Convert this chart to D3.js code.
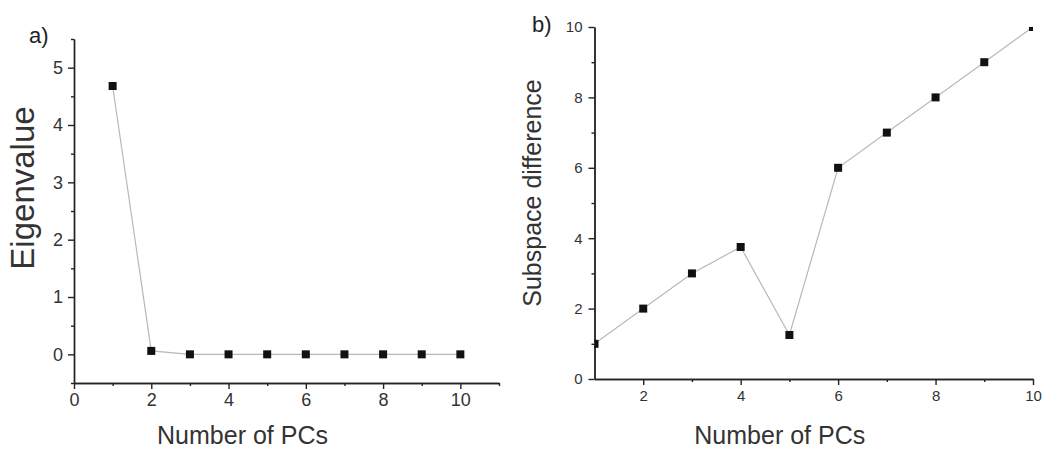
<!DOCTYPE html>
<html>
<head>
<meta charset="utf-8">
<script src="https://cdn.jsdelivr.net/npm/d3@7"></script>
<style>
  body { margin: 0; background: #fff; }
  svg { font-family: "Liberation Sans", Arial, sans-serif; }
  .axis path, .axis line { stroke: #222; stroke-width: 1.4; }
  .axis text { fill: #333; }
</style>
</head>
<body>
<div class="chart"></div>
<script>
// panel a) eigenvalues
let pcsA = [1, 2, 3, 4, 5, 6, 7, 8, 9, 10];
let eigenvalues = [4.68, 0.06, 0, 0, 0, 0, 0, 0, 0, 0];
let xTicksA = [0, 2, 4, 6, 8, 10];
let yTicksA = [0, 1, 2, 3, 4, 5];

// panel b) subspace difference
let pcsB = [1, 2, 3, 4, 5, 6, 7, 8, 9, 10];
let subspaceDiff = [1, 2, 3, 3.75, 1.25, 6, 7, 8, 9, 10];
let xTicksB = [2, 4, 6, 8, 10];
let yTicksB = [0, 2, 4, 6, 8, 10];

let width = 1053, height = 450;

let svg = d3.select('.chart')
  .append('svg')
  .attr('width', width)
  .attr('height', height);

let fmt = d3.format('d');

let drawPanel = function (opt) {
  let x = d3.scaleLinear().domain(opt.xDomain).range([opt.left, opt.right]);
  let y = d3.scaleLinear().domain(opt.yDomain).range([opt.bottom, opt.top]);
  let g = svg.append('g');

  // minor ticks
  g.append('g')
    .attr('class', 'axis')
    .attr('transform', 'translate(0,' + opt.bottom + ')')
    .call(d3.axisBottom(x).tickValues(opt.xMinor).tickSize(3).tickFormat('').tickSizeOuter(0));
  g.append('g')
    .attr('class', 'axis')
    .attr('transform', 'translate(' + opt.left + ',0)')
    .call(d3.axisLeft(y).tickValues(opt.yMinor).tickSize(3).tickFormat('').tickSizeOuter(0));

  // major ticks
  let xa = g.append('g')
    .attr('class', 'axis')
    .attr('transform', 'translate(0,' + opt.bottom + ')')
    .call(d3.axisBottom(x).tickValues(opt.xTicks).tickFormat(fmt).tickSize(6).tickSizeOuter(0).tickPadding(opt.xPad));
  xa.selectAll('text').style('font-size', opt.tickFont + 'px');
  let ya = g.append('g')
    .attr('class', 'axis')
    .attr('transform', 'translate(' + opt.left + ',0)')
    .call(d3.axisLeft(y).tickValues(opt.yTicks).tickFormat(fmt).tickSize(6).tickSizeOuter(0).tickPadding(opt.yPad));
  ya.selectAll('text').style('font-size', opt.tickFont + 'px');

  // clip region for markers
  let clipId = 'clip-' + opt.name;
  svg.append('clipPath').attr('id', clipId)
    .append('rect')
    .attr('x', opt.left).attr('y', opt.top)
    .attr('width', opt.right - opt.left).attr('height', opt.bottom - opt.top);

  let data = opt.xs.map(function (d, i) { return [d, opt.ys[i]]; });
  let line = d3.line()
    .x(function (d) { return x(d[0]); })
    .y(function (d) { return y(d[1]); });

  g.append('path')
    .datum(data)
    .attr('d', line)
    .attr('fill', 'none')
    .attr('stroke', '#b8b8b8')
    .attr('stroke-width', 1.2);

  let s = 8;
  g.append('g')
    .attr('clip-path', 'url(#' + clipId + ')')
    .selectAll('rect')
    .data(data)
    .enter()
    .append('rect')
    .attr('x', function (d) { return x(d[0]) - s / 2; })
    .attr('y', function (d) { return y(d[1]) - s / 2; })
    .attr('width', s)
    .attr('height', s)
    .attr('fill', '#111');

  // panel letter
  svg.append('text')
    .attr('x', opt.letterX).attr('y', opt.letterY)
    .style('font-size', '22px').attr('fill', '#222')
    .text(opt.letter);

  // axis titles
  svg.append('text')
    .attr('x', (opt.left + opt.right) / 2 + opt.xTitleShift)
    .attr('y', 444)
    .attr('text-anchor', 'middle')
    .style('font-size', '25px').attr('fill', '#333')
    .text('Number of PCs');

  svg.append('text')
    .attr('transform', 'translate(' + opt.yTitleX + ',' + opt.yTitleY + ') rotate(-90)')
    .attr('text-anchor', 'middle')
    .style('font-size', opt.yTitleFont + 'px').attr('fill', '#333')
    .text(opt.yTitle);
};

drawPanel({
  name: 'a',
  xs: pcsA, ys: eigenvalues,
  xDomain: [0, 11], yDomain: [-0.5, 5.5],
  left: 74, right: 499, top: 39, bottom: 383,
  xTicks: xTicksA, yTicks: yTicksA,
  xMinor: [1, 3, 5, 7, 9, 11], yMinor: [-0.5, 0.5, 1.5, 2.5, 3.5, 4.5, 5.5],
  tickFont: 18, xPad: 4, yPad: 5,
  letter: 'a)', letterX: 29, letterY: 43,
  xTitleShift: -44,
  yTitle: 'Eigenvalue', yTitleX: 34, yTitleY: 188, yTitleFont: 33
});

drawPanel({
  name: 'b',
  xs: pcsB, ys: subspaceDiff,
  xDomain: [1, 10], yDomain: [0, 10],
  left: 594.5, right: 1033, top: 27, bottom: 379,
  xTicks: xTicksB, yTicks: yTicksB,
  xMinor: [3, 5, 7, 9], yMinor: [1, 3, 5, 7, 9],
  tickFont: 15, xPad: 5, yPad: 6,
  letter: 'b)', letterX: 532, letterY: 32,
  xTitleShift: -34,
  yTitle: 'Subspace difference', yTitleX: 541, yTitleY: 193, yTitleFont: 25
});
</script>
</body>
</html>
